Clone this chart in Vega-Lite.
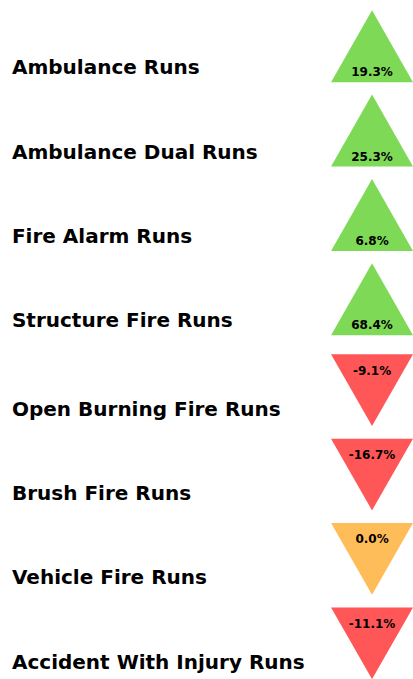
{
  "$schema": "https://vega.github.io/schema/vega-lite/v6.json",
  "width": 413,
  "height": 679,
  "autosize": {"type": "fit", "contains": "padding"},
  "padding": 0,
  "background": "white",
  "config": {
    "view": {"stroke": null},
    "locale": {"number": {"decimal": ".", "thousands": ",", "grouping": [3], "currency": ["$", ""], "minus": "-"}}
  },
  "data": {
    "values": [
      {"metric": "Ambulance Runs", "change": 0.193, "trend": "up", "dir": "up"},
      {"metric": "Ambulance Dual Runs", "change": 0.253, "trend": "up", "dir": "up"},
      {"metric": "Fire Alarm Runs", "change": 0.068, "trend": "up", "dir": "up"},
      {"metric": "Structure Fire Runs", "change": 0.684, "trend": "up", "dir": "up"},
      {"metric": "Open Burning Fire Runs", "change": -0.091, "trend": "down", "dir": "down"},
      {"metric": "Brush Fire Runs", "change": -0.167, "trend": "down", "dir": "down"},
      {"metric": "Vehicle Fire Runs", "change": 0.0, "trend": "flat", "dir": "down"},
      {"metric": "Accident With Injury Runs", "change": -0.111, "trend": "down", "dir": "down"}
    ]
  },
  "encoding": {
    "y": {
      "field": "metric",
      "type": "ordinal",
      "sort": null,
      "scale": {"type": "band", "paddingInner": 0, "paddingOuter": 0},
      "axis": null
    }
  },
  "layer": [
    {
      "mark": {"type": "point", "filled": true, "opacity": 1, "strokeWidth": 0},
      "encoding": {
        "x": {"datum": 90.3, "type": "quantitative", "scale": {"domain": [0, 100]}, "axis": null},
        "shape": {
          "field": "dir",
          "type": "nominal",
          "scale": {"domain": ["up", "down"], "range": ["M-1,0.976L1,0.976L0,-0.78Z", "M-1,-0.62L1,-0.62L0,1.13Z"]},
          "legend": null
        },
        "color": {
          "field": "trend",
          "type": "nominal",
          "scale": {"domain": ["up", "down", "flat"], "range": ["#7ED957", "#FF5757", "#FFBD59"]},
          "legend": null
        },
        "size": {"value": 6724}
      }
    },
    {
      "transform": [{"filter": "datum.dir === 'up'"}],
      "mark": {"type": "text", "font": "DejaVu Sans", "fontWeight": "bold", "fontSize": 12, "dy": 30, "color": "#000000"},
      "encoding": {
        "x": {"datum": 90.3, "type": "quantitative"},
        "text": {"field": "change", "type": "quantitative", "format": ".1%"}
      }
    },
    {
      "transform": [{"filter": "datum.dir === 'down'"}],
      "mark": {"type": "text", "font": "DejaVu Sans", "fontWeight": "bold", "fontSize": 12, "dy": -9, "color": "#000000"},
      "encoding": {
        "x": {"datum": 90.3, "type": "quantitative"},
        "text": {"field": "change", "type": "quantitative", "format": ".1%"}
      }
    },
    {
      "transform": [{"filter": "datum.dir === 'up'"}],
      "mark": {"type": "text", "font": "DejaVu Sans", "fontWeight": "bold", "fontSize": 20, "align": "left", "dy": 26, "color": "#000000"},
      "encoding": {
        "x": {"datum": 2.9, "type": "quantitative"},
        "text": {"field": "metric", "type": "nominal"}
      }
    },
    {
      "transform": [{"filter": "datum.dir === 'down'"}],
      "mark": {"type": "text", "font": "DejaVu Sans", "fontWeight": "bold", "fontSize": 20, "align": "left", "dy": 30, "color": "#000000"},
      "encoding": {
        "x": {"datum": 2.9, "type": "quantitative"},
        "text": {"field": "metric", "type": "nominal"}
      }
    }
  ]
}
